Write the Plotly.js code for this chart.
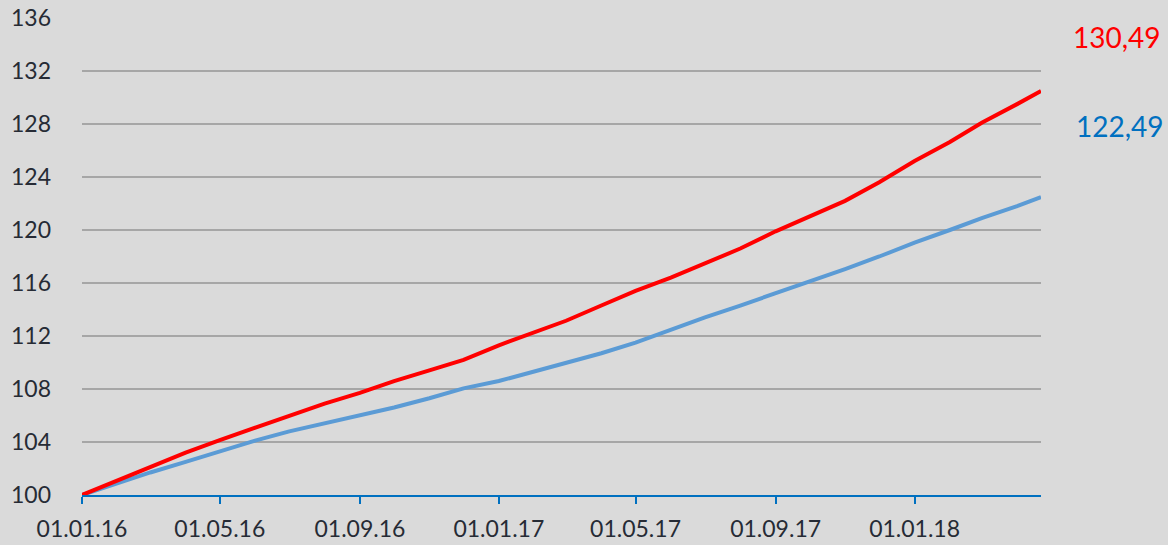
<!DOCTYPE html>
<html>
<head>
<meta charset="utf-8">
<script src="https://cdn.plot.ly/plotly-3.0.1.min.js"></script>
<style>html,body{margin:0;padding:0;background:#dadada;}#chart{width:1168px;height:545px;}</style>
</head>
<body>
<div id="chart"></div>
<script>
const dates = ["2016-01-01","2016-02-01","2016-03-01","2016-04-01","2016-05-01","2016-06-01","2016-07-01","2016-08-01","2016-09-01","2016-10-01","2016-11-01","2016-12-01",
"2017-01-01","2017-02-01","2017-03-01","2017-04-01","2017-05-01","2017-06-01","2017-07-01","2017-08-01","2017-09-01","2017-10-01","2017-11-01","2017-12-01",
"2018-01-01","2018-02-01","2018-03-01","2018-04-01","2018-04-22"];
const redValues = [100,101.1,102.1,103.2,104.15,105.1,106.0,106.9,107.7,108.6,109.4,110.2,
111.3,112.25,113.15,114.3,115.4,116.4,117.5,118.6,119.9,121.0,122.2,123.6,
125.2,126.65,128.1,129.5,130.49];
const blueValues = [100,100.9,101.7,102.5,103.3,104.1,104.8,105.4,105.96,106.6,107.3,108.05,
108.6,109.3,109.95,110.7,111.5,112.5,113.4,114.3,115.2,116.1,117.05,118.0,
119.05,120.0,120.9,121.8,122.49];
const redLabel = "130,49";
const blueLabel = "122,49";
const yTicks = [100,104,108,112,116,120,124,128,132,136];

const traces = [
  {x: dates, y: blueValues, type: "scatter", mode: "lines", line: {color: "#5b9bd5", width: 4}, hoverinfo: "skip"},
  {x: dates, y: redValues, type: "scatter", mode: "lines", line: {color: "#ff0000", width: 4}, hoverinfo: "skip"}
];

const layout = {
  width: 1168, height: 545,
  paper_bgcolor: "#dadada", plot_bgcolor: "#dadada",
  margin: {l: 82, r: 127, t: 18, b: 50},
  showlegend: false,
  font: {family: "Lato, 'Open Sans', sans-serif", size: 23, color: "#262b35"},
  xaxis: {
    type: "date",
    range: ["2016-01-01", "2018-04-22"],
    tick0: "2016-01-01", dtick: "M4",
    tickformat: "%d.%m.%y",
    showgrid: false, zeroline: false,
    showline: true, linecolor: "#0070c0", linewidth: 2,
    ticks: "outside", ticklen: 7, tickcolor: "#0070c0", tickwidth: 2,
    ticklabelstandoff: 5,
    tickfont: {size: 23, color: "#262b35"}
  },
  yaxis: {
    range: [100, 136],
    tickvals: yTicks,
    ticktext: yTicks.map(String),
    showgrid: true, gridcolor: "#a6a6a6", gridwidth: 2,
    zeroline: false, showline: false, ticks: "",
    ticklabelstandoff: 30,
    tickfont: {size: 23, color: "#262b35"}
  },
  annotations: [
    {xref: "paper", yref: "paper", x: 1.079, y: 0.96, text: redLabel, showarrow: false,
     xanchor: "center", yanchor: "middle", font: {size: 28, color: "#ff0000"}},
    {xref: "paper", yref: "paper", x: 1.082, y: 0.774, text: blueLabel, showarrow: false,
     xanchor: "center", yanchor: "middle", font: {size: 28, color: "#0070c0"}}
  ]
};

Plotly.newPlot("chart", traces, layout, {displayModeBar: false, staticPlot: true});
</script>
</body>
</html>
